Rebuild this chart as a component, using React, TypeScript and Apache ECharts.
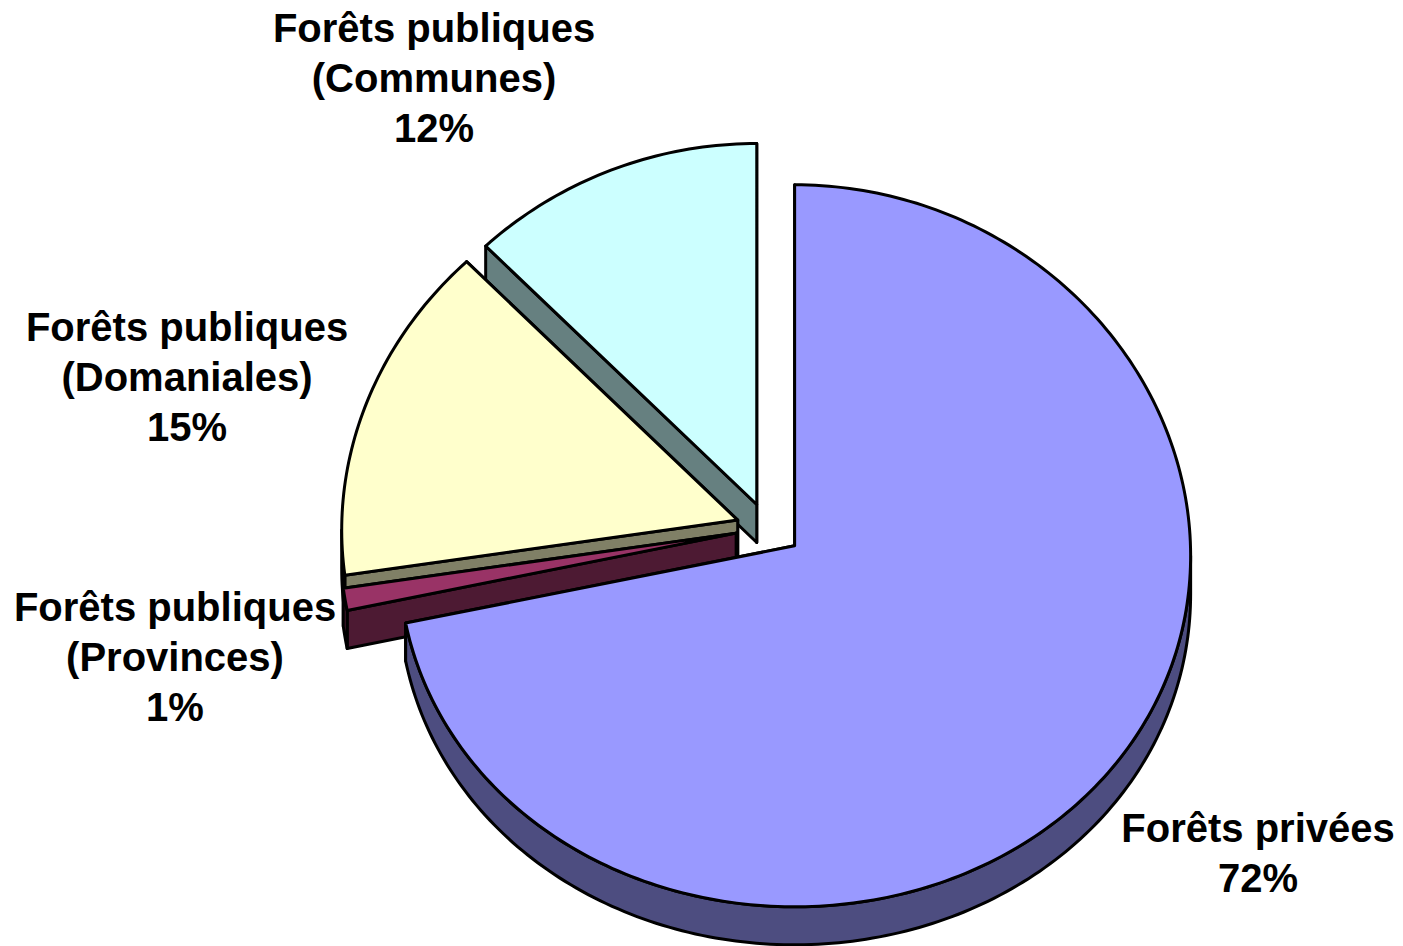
import React, { useEffect, useRef } from "react";
import * as echarts from "echarts";

// ---- data ----
const categories = [
  "Forêts privées",
  "Forêts publiques\n(Provinces)",
  "Forêts publiques\n(Domaniales)",
  "Forêts publiques\n(Communes)",
];
const shares = [72, 1, 15, 12];

// ---- styles / layout ----
const topColors = ["#9999FF", "#993366", "#FFFFCC", "#CCFFFF"];
const sideColors = ["#4D4D80", "#4D1A33", "#808066", "#668080"];
const labelPos = [
  [1258, 853],
  [175, 657],
  [187, 377],
  [434, 78],
];

const CX = 769;
const CY = 529;
const RX = 396;
const RY = 361;
const DEPTH = 38;
const EXPLODE_X = 0.084;
const EXPLODE_Y = 0.073;
const PERSP = 10;
const LW = 3;

const total = shares.reduce((a, b) => a + b, 0);

function renderItem(params: any, api: any) {
  const i = params.dataIndex;
  const v = api.value(0);
  let before = 0;
  for (let k = 0; k < i; k++) before += shares[k];
  const TWO_PI = Math.PI * 2;
  const a1 = (before / total) * TWO_PI;
  const a2 = ((before + v) / total) * TWO_PI;
  const mid = (a1 + a2) / 2;
  const ox = CX + EXPLODE_X * RX * Math.sin(mid);
  const oy = CY - EXPLODE_Y * RY * Math.cos(mid);
  const P = (a: number) => [
    ox + RX * Math.sin(a),
    oy - RY * Math.cos(a) + PERSP * Math.sin(a) * Math.sin(a),
  ];
  const arc = (s: number, e: number) => {
    const n = Math.max(2, Math.ceil(((e - s) * 180) / Math.PI));
    const pts: number[][] = [];
    for (let k = 0; k <= n; k++) pts.push(P(s + ((e - s) * k) / n));
    return pts;
  };
  const down = (p: number[]) => [p[0], p[1] + DEPTH];
  // rank: back slices first
  const depthKey = (idx: number) => {
    let b = 0;
    for (let k = 0; k < idx; k++) b += shares[k];
    const m = ((b + shares[idx] / 2) / total) * TWO_PI;
    return -Math.cos(m);
  };
  const myKey = depthKey(i);
  let rank = 0;
  for (let k = 0; k < shares.length; k++) if (depthKey(k) < myKey) rank++;
  const base = rank * 10;

  const stroke = { stroke: "#000", lineWidth: LW, lineJoin: "round" };
  const children: any[] = [];
  const apex = [ox, oy];
  const radialWall = (a: number, z: number) => {
    const p = P(a);
    children.push({
      type: "polygon",
      z2: base + z,
      shape: { points: [apex, p, down(p), down(apex)] },
      style: { fill: sideColors[i], ...stroke },
    });
  };
  radialWall(a2, 0);
  radialWall(a1, 1);
  const s = Math.max(a1, Math.PI / 2);
  const e = Math.min(a2, (Math.PI * 3) / 2);
  if (e > s) {
    const top = arc(s, e);
    const bottom = top.map(down).reverse();
    children.push({
      type: "polygon",
      z2: base + 2,
      shape: { points: top.concat(bottom) },
      style: { fill: sideColors[i], ...stroke },
    });
  }
  children.push({
    type: "polygon",
    z2: base + 3,
    shape: { points: [apex].concat(arc(a1, a2)) },
    style: { fill: topColors[i], ...stroke },
  });
  const pct = Math.round((v / total) * 100) + "%";
  children.push({
    type: "text",
    z2: 100,
    x: labelPos[i][0],
    y: labelPos[i][1],
    style: {
      text: categories[i] + "\n" + pct,
      fill: "#000",
      font: 'bold 40px "Liberation Sans", Arial, sans-serif',
      align: "center",
      verticalAlign: "middle",
      textAlign: "center",
      textVerticalAlign: "middle",
      lineHeight: 50,
    },
  });
  return { type: "group", children };
}

export default function App() {
  const ref = useRef<HTMLDivElement>(null);
  useEffect(() => {
    if (!ref.current) return;
    const chart = echarts.init(ref.current, undefined, { renderer: "svg" });
    chart.setOption({
      animation: false,
      backgroundColor: "#ffffff",
      series: [
        {
          type: "custom",
          coordinateSystem: "none",
          renderItem,
          data: shares.map((v, i) => ({ value: [v], name: categories[i] })),
        },
      ],
    });
    return () => chart.dispose();
  }, []);
  return (
    <div
      ref={ref}
      style={{ position: "fixed", left: 0, top: 0, width: 1403, height: 946 }}
    />
  );
}
